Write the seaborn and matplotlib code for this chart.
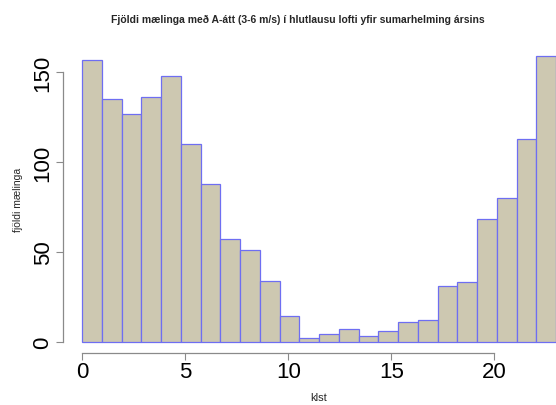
import numpy as np
import pandas as pd
import matplotlib
matplotlib.use("Agg")
import matplotlib.pyplot as plt
import seaborn as sns

hours = list(range(24))
counts = [157, 135, 127, 136, 148, 110, 88, 57, 51, 34, 14, 2,
          4, 7, 3, 6, 11, 12, 31, 33, 68, 80, 113, 159]
xticks = [0, 5, 10, 15, 20]
yticks = [0, 50, 100, 150]
title = "Fjöldi mælinga með A-átt (3-6 m/s) í hlutlausu lofti yfir sumarhelming ársins"
xlabel = "klst"
ylabel = "fjöldi mælinga"

sns.set_style("white")
plt.rcParams['font.family'] = ['Liberation Sans', 'DejaVu Sans']

W, H = 556, 406
fig = plt.figure(figsize=(W / 100, H / 100), dpi=100)
left_px, right_px = 63.3, 575.0
top_px, bot_px = 45.7, 354.0
ax = fig.add_axes([left_px / W, 1 - bot_px / H, (right_px - left_px) / W, (bot_px - top_px) / H])

df = pd.DataFrame({"hour": hours, "n": counts})
sns.histplot(data=df, x="hour", weights="n", bins=24, binrange=(0, 23),
             color="#CDC8B1", edgecolor="#6E6EF2", linewidth=0.9, alpha=1.0, ax=ax)

ymax = max(counts)
ax.set_xlim(-0.04 * 23, 23 + 0.04 * 23)
ax.set_ylim(-0.04 * ymax, ymax * 1.04)

for s in ["top", "right"]:
    ax.spines[s].set_visible(False)
ax.spines["left"].set_bounds(0, 150)
ax.spines["bottom"].set_bounds(0, 20)
for s in ["left", "bottom"]:
    ax.spines[s].set_color("#8a8a8a")
    ax.spines[s].set_linewidth(0.9)

ax.set_xticks(xticks)
ax.set_yticks(yticks)
ax.tick_params(axis="both", direction="out", length=5, width=0.8, color="#8a8a8a",
               labelsize=16, labelcolor="black")
ax.tick_params(axis="x", pad=1, bottom=True)
ax.tick_params(axis="y", pad=2, left=True)
for lab in ax.get_yticklabels():
    lab.set_rotation(90)
    lab.set_va("center")
ax.set_xlabel("")
ax.set_ylabel("")

fig.text(298 / W, 1 - 20 / H, title, ha="center", va="center", fontsize=7.5, fontweight="bold")
fig.text(319 / W, 1 - 398 / H, xlabel, ha="center", va="center", fontsize=8)
fig.text(18 / W, 1 - 200 / H, ylabel, ha="center", va="center", fontsize=7.5, rotation=90)

fig.savefig("out.png", dpi=100)
